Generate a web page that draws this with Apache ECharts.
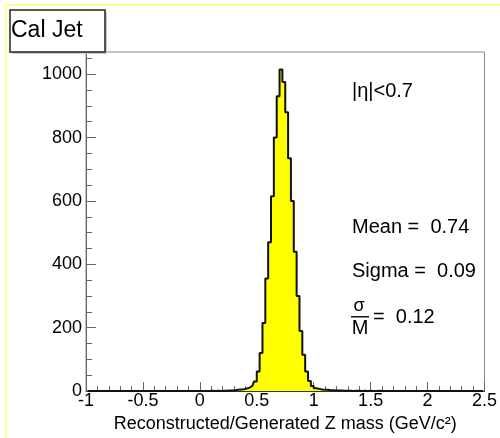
<!DOCTYPE html>
<html>
<head>
<meta charset="utf-8">
<script src="https://cdn.jsdelivr.net/npm/echarts@6/dist/echarts.min.js"></script>
<style>
    html, body { margin: 0; padding: 0; background: #fff; }
    #chart { width: 500px; height: 438px; }
</style>
</head>
<body>
<div id="chart"></div>
<script>
    // histogram binning: 140 bins from -1 to 2.5
    var binLow = -1;
    var binWidth = 0.025;
    var counts = [
        0, 0, 0, 0, 0, 0, 0, 0, 0, 0,
        0, 0, 0, 0, 0, 0, 0, 0, 0, 0,
        0, 0, 0, 0, 0, 0, 0, 0, 0, 0,
        0, 0, 0, 0, 0, 0, 0, 0, 0, 0,
        0, 0, 0, 0, 1, 0, 1, 0, 1, 1,
        2, 2, 3, 4, 5, 6, 8, 11, 17, 30,
        62, 120, 215, 355, 470, 615, 800, 930, 1015, 975,
        880, 735, 600, 440, 300, 190, 115, 62, 32, 16,
        9, 7, 5, 4, 4, 3, 3, 2, 2, 2,
        1, 1, 1, 0, 1, 1, 0, 1, 0, 1,
        0, 0, 1, 0, 0, 0, 0, 0, 0, 0,
        0, 0, 0, 0, 0, 0, 0, 0, 0, 0,
        0, 0, 0, 0, 0, 0, 0, 0, 0, 0,
        0, 0, 0, 0, 0, 0, 0, 0, 0, 0
    ];
    var xTicks = [-1, 2.5, 0.5];   // min, max, step
    var yTicks = [0, 1070, 200];

    var titleText = "Cal Jet";
    var etaText = "|\u03b7|<0.7";
    var meanText = "Mean =  0.74";
    var sigmaText = "Sigma =  0.09";
    var ratioText = "=  0.12";

    var font = "Liberation Sans, Arial, Helvetica, sans-serif";

    var data = counts.map(function(c, i) {
        return [binLow + binWidth * (i + 0.5), c];
    });

    var chart = echarts.init(document.getElementById("chart"), null, { renderer: "canvas" });

    var option = {
        animation: false,
        backgroundColor: "#fff",
        grid: {
            left: 86, right: 14, top: 52, bottom: 43,
            show: true, borderColor: "#888", borderWidth: 1, backgroundColor: "#fff"
        },
        xAxis: {
            type: "value",
            min: xTicks[0], max: xTicks[1], interval: xTicks[2],
            name: "Reconstructed/Generated Z mass (GeV/c\u00b2)",
            nameLocation: "middle",
            nameGap: 15,
            nameTextStyle: { color: "#000", fontSize: 18, fontFamily: font },
            axisLine: { onZero: false, lineStyle: { color: "#333", width: 1 } },
            axisTick: { inside: true, length: 9, lineStyle: { color: "#666" } },
            minorTick: { show: true, splitNumber: 5, length: 5, lineStyle: { color: "#666" } },
            splitLine: { show: false },
            axisLabel: { color: "#000", fontSize: 18, fontFamily: font, margin: 1 }
        },
        yAxis: {
            type: "value",
            min: yTicks[0], max: yTicks[1], interval: yTicks[2],
            axisLine: { show: true, onZero: false, lineStyle: { color: "#666", width: 1 } },
            axisTick: { show: true, inside: true, length: 10, lineStyle: { color: "#666" } },
            minorTick: { show: true, splitNumber: 4, length: 6, lineStyle: { color: "#666" } },
            splitLine: { show: false },
            axisLabel: {
                color: "#000", fontSize: 18, fontFamily: font, margin: 4, showMaxLabel: false,
                formatter: function(v) { return String(v); }
            }
        },
        series: [{
            type: "line",
            step: "middle",
            data: data,
            showSymbol: false,
            lineStyle: { color: "#111", width: 2 },
            areaStyle: { color: "#ffff00", opacity: 1 },
            z: 3
        }],
        graphic: [
            // pale yellow slide frame
            { type: "rect", shape: { x: 5, y: 4, width: 495, height: 2 }, style: { fill: "#ffff90" }, silent: true },
            { type: "rect", shape: { x: 5, y: 4, width: 2, height: 434 }, style: { fill: "#ffff90" }, silent: true },
            // title box
            { type: "rect", shape: { x: 12, y: 12, width: 95, height: 42 }, style: { fill: "#ccc" }, silent: true, z: 10 },
            { type: "rect", shape: { x: 10, y: 10, width: 95, height: 42 }, style: { fill: "#fff", stroke: "#222", lineWidth: 1.5 }, silent: true, z: 11 },
            { type: "text", x: 11, y: 31, style: { text: titleText, fill: "#000", font: "23px " + font, verticalAlign: "middle" }, z: 12 },
            // annotations
            { type: "text", x: 352, y: 91, style: { text: etaText, fill: "#000", font: "20px " + font, verticalAlign: "middle" }, z: 12 },
            { type: "text", x: 352, y: 227, style: { text: meanText, fill: "#000", font: "20px " + font, verticalAlign: "middle" }, z: 12 },
            { type: "text", x: 352, y: 271, style: { text: sigmaText, fill: "#000", font: "20px " + font, verticalAlign: "middle" }, z: 12 },
            { type: "text", x: 359, y: 306, style: { text: "\u03c3", fill: "#000", font: "18px " + font, align: "center", verticalAlign: "middle" }, z: 12 },
            { type: "rect", shape: { x: 351, y: 316, width: 18, height: 1.5 }, style: { fill: "#111" }, silent: true, z: 12 },
            { type: "text", x: 360, y: 328, style: { text: "M", fill: "#000", font: "20px " + font, align: "center", verticalAlign: "middle" }, z: 12 },
            { type: "text", x: 373, y: 317, style: { text: ratioText, fill: "#000", font: "20px " + font, verticalAlign: "middle" }, z: 12 }
        ]
    };
    chart.setOption(option);
</script>
</body>
</html>
